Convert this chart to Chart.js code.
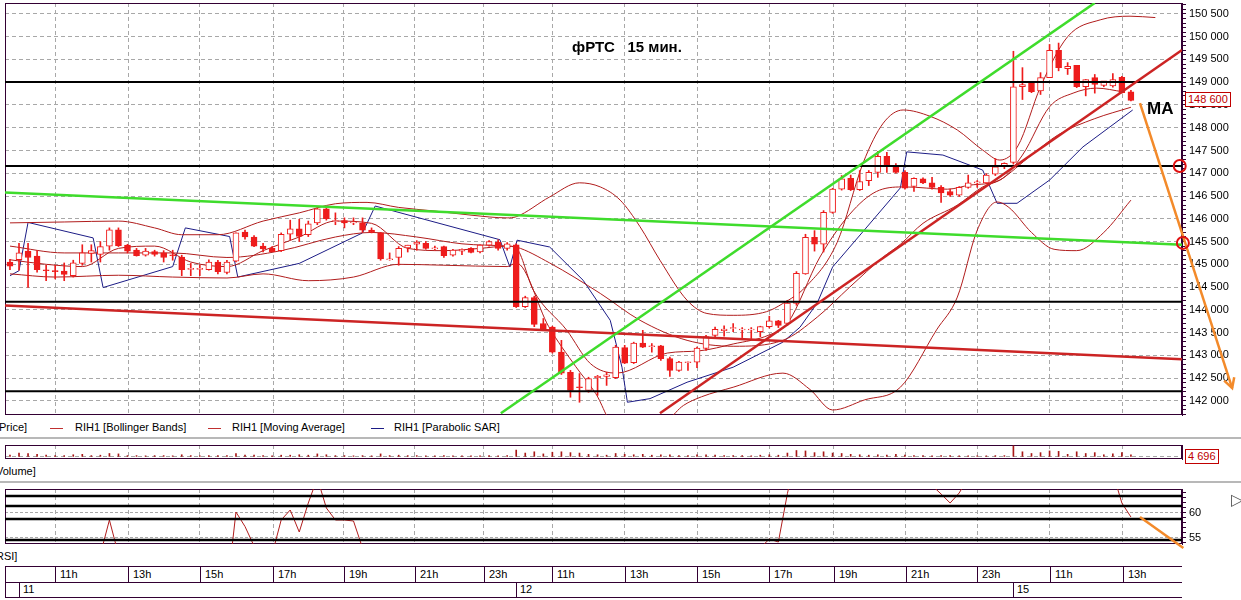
<!DOCTYPE html>
<html>
<head>
<meta charset="utf-8">
<title>RIH1 15 min</title>
<script src="https://cdn.jsdelivr.net/npm/chart.js@4.4.1/dist/chart.umd.min.js"></script>
<style>
  html, body { margin: 0; padding: 0; background: #fff; }
  body { position: relative; width: 1241px; height: 600px; overflow: hidden;
         font-family: "Liberation Sans", Arial, sans-serif; font-size: 11px; color: #000; }
  canvas { position: absolute; left: 0; }
  .lbl { position: absolute; white-space: pre; line-height: 13px; }
  .sep { position: absolute; left: 0; width: 1241px; height: 2px; background: #b8b8b8; }
  .tag { position: absolute; border: 1px solid #c00000; color: #c00000; background: #fff;
         padding: 0 2px; line-height: 13px; white-space: nowrap; }
  .ln { position: absolute; background: #330033; }
  .key { position: absolute; height: 1px; width: 13px; }
</style>
</head>
<body>
<canvas id="price" width="1241" height="420" style="top:0"></canvas>
<canvas id="volume" width="1241" height="24" style="top:440px"></canvas>
<canvas id="rsi" width="1241" height="66" style="top:484px"></canvas>
<script>
// x axis is the candle index (15 min bars), 9 px per bar
const X_MIN = -0.55, X_MAX = 129.65;

// hour grid lines and the time strip
const hourIdx = [5, 13.1, 21, 29.1, 36.9, 44.8, 52.4, 60, 68, 76, 84, 91.1, 99.1, 107, 115, 123.1];
const hourLabels = ['11h', '13h', '15h', '17h', '19h', '21h', '23h', '11h', '13h', '15h', '17h', '19h', '21h', '23h', '11h', '13h'];
const dayIdx = [1, 56, 111];
const dayLabels = ['11', '12', '15'];

// RIH1 candles
const opens = [
  145050,145100,145290,145180,144880,144860,144850,144750,145020,145240,
  145220,145400,145760,145420,145310,145200,145280,145250,145210,145160,
  144890,144890,144880,145050,144820,145070,145710,145600,145400,145350,
  145300,145660,145780,145650,145910,146220,145940,145960,145910,145910,
  145750,145690,145100,145150,145360,145440,145460,145340,145390,145200,
  145290,145350,145270,145420,145490,145350,
  145430,144070,144270,143700,143620,143070,142630,142310,142230,142510,
  142540,142510,143170,142840,143270,143190,143210,142930,142670,142840,
  142850,143150,143440,143540,143590,143560,143560,143520,143630,143760,
  143700,144140,144790,145590,145440,146140,146650,146890,146640,146840,
  147020,147370,147150,147020,146710,146880,146790,146690,146600,146520,
  146690,146790,146790,146980,147150,
  147240,148900,148990,148810,149100,149700,149300,149370,148900,149100,
  148930,148920,149110,148790
];
const highs = [
  145110,145460,145460,145300,144980,144980,145030,145090,145430,145430,
  145500,145800,145800,145440,145350,145350,145310,145300,145310,145200,
  145020,144980,145100,145090,145090,145690,145750,145630,145460,145390,
  145690,145970,145990,145950,146250,146250,146130,146020,146020,146020,
  145800,145700,145250,145390,145420,145520,145500,145400,145400,145330,
  145340,145370,145430,145520,145540,145480,
  145450,144300,144300,143810,143640,143330,142670,142600,142520,142560,
  142630,143220,143220,143290,143550,143260,143220,142960,142870,142860,
  143180,143440,143620,143650,143700,143610,143610,143640,143860,143770,
  144210,144840,145660,145740,146180,146670,146950,146960,147060,147060,
  147480,147460,147210,147060,146900,146900,146910,146730,146650,146710,
  146960,146840,146990,147320,147230,
  149680,149320,149020,149210,149830,149860,149430,149370,149060,149170,
  148990,149190,149130,148820
];
const lows = [
  144880,144870,144490,144830,144640,144680,144640,144720,144980,145050,
  145050,145310,145390,145250,145180,145180,145180,145050,145090,144750,
  144750,144750,144870,144790,144790,145050,145550,145390,145270,145280,
  145280,145540,145500,145610,145870,145970,145870,145800,145870,145700,
  145690,145090,145090,144980,145270,145310,145330,145310,145150,145180,
  145210,145250,145250,145400,145310,145310,
  144050,144050,143630,143550,143050,142580,142080,141970,142190,142120,
  142340,142490,142820,142820,143170,143070,142890,142540,142650,142670,
  142730,143110,143400,143420,143520,143390,143370,143410,143600,143610,
  143660,144100,144780,145290,145270,146120,146630,146620,146620,146730,
  146910,147020,147000,146650,146600,146770,146650,146360,146490,146490,
  146670,146690,146770,146950,147100,
  147200,148620,148770,148730,149100,149250,149170,148880,148700,148760,
  148900,148890,148760,148590
];
const closes = [
  144960,145250,145150,144880,144860,144840,144780,145030,145250,145300,
  145390,145760,145410,145290,145190,145290,145220,145150,145190,144880,
  144910,144910,145050,144840,145050,145690,145600,145400,145340,145280,
  145660,145780,145610,145890,146220,146000,145960,145910,145930,145750,
  145700,145120,145120,145350,145420,145490,145350,145360,145190,145310,
  145330,145260,145420,145500,145350,145450,
  144070,144270,143680,143580,143070,142610,142230,142290,142490,142540,
  142570,143180,142830,143270,143180,143210,142930,142670,142850,142860,
  143160,143410,143570,143580,143610,143580,143580,143630,143760,143660,
  144150,144800,145590,145440,146140,146650,146880,146640,146820,147020,
  147370,147170,147020,146670,146890,146790,146690,146570,146520,146690,
  146790,146810,146960,147140,147220,
  148900,148950,148790,149100,149700,149320,149350,148900,149060,148950,
  149030,149060,148770,148600
];

// indicator lines as [bar index, price]
const bbUpper = [[0,145910],[6,145930],[12,145950],[16,145800],[19,145650],[23,145650],[28,145950],[32,146130],
  [36,146330],[39.5,146360],[43,146250],[47,146170],[51,146080],[55,146020],[56,146045],[59.7,146480],[63,146790],
  [65.3,146700],[67.5,146410],[69.7,145825],[71.9,145090],[74.9,144210],[77.1,143920],[80,143880],[83.7,143960],
  [85.5,144140],[88,144500],[91.5,145480],[94.4,147240],[96.6,148100],[98.8,148390],[101.8,148250],[104.8,147950],
  [107.6,147510],[109.5,147290],[111.5,147600],[114,148900],[117,150000],[120.6,150370],[123.9,150450],[126.7,150420]];
const bbMiddle = [[0,145400],[6,145250],[12,145250],[18,145250],[24,145150],[30,145300],[36,145600],[40,145700],
  [45,145600],[50,145450],[55,145400],[56,145380],[59.7,145030],[65.3,144360],[69.7,143770],[74.9,143330],[80,143200],
  [85.5,143330],[89.3,143840],[92.9,144500],[96.6,145160],[98.5,145440],[101,145900],[104.8,146300],[107.6,146700],
  [109.5,146850],[113,147400],[116,147850],[120,148200],[124,148450]];
const bbLower = [[0,144790],[5,144720],[12,144760],[18,144720],[24,144700],[28,144790],[33,144640],[38,144720],
  [43,145000],[48,144980],[55,144950],[56,145030],[59.6,143630],[62.6,142750],[64.8,142160],[67,141400],[71,141300],
  [74.5,141900],[76.5,142090],[80,142300],[85.5,142610],[88.5,142250],[91,141800],[94.5,142020],[98.5,142300],
  [102.5,143560],[104.8,144280],[107,145750],[109.2,146370],[110.5,146250],[113,145700],[115.5,145330],[118,145300],
  [121,145700],[124,146410]];
const maLine = [[0,145100],[4,145000],[8,144950],[12,145350],[16,145400],[20,145050],[24,144950],[28,145300],
  [32,145600],[36,145950],[40,145900],[44,145350],[48,145300],[52,145350],[55,145400],[56,145355],[57.9,144430],
  [61.6,143550],[64.2,142820],[67.1,142610],[72.7,143050],[76.3,143100],[80,143250],[84,143450],[86,143700],
  [89.6,145160],[93.3,146190],[96.2,146630],[99,146700],[103.7,146650],[106.2,146740],[109.5,146850],[112,147400],
  [115,148460],[117.6,148760],[120.2,148870],[123.1,148790]];
const sarLine = [[0,144750],[1,144860],[2,145920],[9.2,145580],[10.3,144490],[18,144950],[19.4,145800],[24.3,145610],
  [25.2,144720],[32,145020],[39,145690],[40.4,146280],[54.2,145540],[55.3,144940],[56.1,145530],[59.7,145380],
  [63.4,144650],[66.4,143770],[67.7,142740],[68.3,141970],[70.8,142050],[74.9,142410],[80,142740],[85.5,143290],
  [87.4,143620],[89.3,144150],[91,144940],[94.8,145820],[98.5,146680],[99.2,147470],[103.2,147400],[107.6,147070],
  [109.2,146340],[111.4,146340],[115,146850],[118.7,147580],[124.2,148390]];

// hand drawn lines on the price panel
const levels = [149005, 147160, 144180, 142210];
const greenLines = [[[X_MIN,146575],[X_MAX,145430]], [[54.3,141730],[120,150742]]];
const redLines = [[[X_MIN,144095],[X_MAX,142915]], [[71.9,141730],[X_MAX,149709]]];
const orangeArrow = [[125,148540],[135.2,142280]];
const circles = [[129.4,147160],[129.75,145470],[129.75,144180],[129.75,142210]];

// volume and RSI panels
const volumes = [
  4000,9000,8000,6000,4000,3000,3000,5000,6000,3000,4000,8000,7000,3000,3000,2500,3000,3000,2500,5000,
  3000,2500,3000,3000,3000,8000,4000,4000,3000,2500,4000,4000,5000,4000,7000,5000,3000,3000,2500,3000,
  2500,7000,3000,4000,3000,3000,2500,2500,3000,2500,2500,2500,2500,3000,2500,3000,
  16000,9000,12000,7000,11000,12000,10000,9000,6000,5000,4000,8000,6000,5000,6000,4000,5000,5000,3000,3000,
  5000,5000,4000,3000,3000,3000,2500,4000,5000,4000,9000,15000,14000,10000,12000,9000,8000,6000,5000,4000,
  5000,4000,6000,4000,3000,3000,2500,3000,3000,2500,2500,2500,2500,3000,3000,
  26000,12000,8000,10000,14000,13000,6000,12000,8000,10000,5000,7000,10000,4696
];
const rsi = [
  48,50,47,45,44,45,44,47,50,51,
  51.7,58.6,51.7,
  48,46,47,46,44,45,38,40,41,45,42,
  44.2,60.2,57.3,53.4,50,
  51.7,58.6,60.6,56.2,62,67,61,58.6,58.6,58.4,
  53,50,40,41,46,48,50,47,47,44,46,47,45,48,50,47,49,
  30,32,28,27,24,20,18,18,22,24,25,35,32,38,40,40,36,32,35,35,40,45,48,49,50,49,49,53,
  54.8,54.2,63.9,72,
  78,76,82,85,86,82,83,84,86,82,80,72,74,72,
  65.5,63.8,62,64,67,
  68,70,72,80,82,79,77,79,82,78,78,70,72,70,71,
  68,62,59.2
];
const rsiLevels = [63.4, 61.4, 58.8, 54.6];
const rsiOrange = [[125,59.2],[129.8,53.0]];
const rsiTicks = [54,55,56,57,58,59,60,61,62,63,64];
const rsiLabeled = [55, 60];

const RED = '#ee1c1c', THIN = '#b01c1c', NAVY = '#1c1c86', FRAME = '#330033', GRID = '#a8a8a8';
const FONT = { family: '"Liberation Sans", Arial, sans-serif', size: 11 };

function pts(arr) { return arr.map(p => ({ x: p[0], y: p[1] })); }
function spaced(v) {
  const t = Math.floor(v / 1000), r = Math.round(v % 1000);
  return t + ' ' + String(r).padStart(3, '0');
}

// frame round the plot area
const framePlugin = {
  id: 'frame',
  beforeDatasetsDraw(chart) {
    const a = chart.chartArea, c = chart.ctx;
    c.save();
    c.strokeStyle = FRAME;
    c.lineWidth = 1;
    c.strokeRect(Math.round(a.left) + 0.5, Math.round(a.top) + 0.5,
      Math.round(a.right - a.left) - 1, Math.round(a.bottom - a.top) - 1);
    c.restore();
  }
};

// open arrow head at the end of datasets that ask for it
const arrowPlugin = {
  id: 'arrow',
  afterDatasetsDraw(chart) {
    chart.data.datasets.forEach((ds, k) => {
      if (!ds.arrowHead) return;
      const d = chart.getDatasetMeta(k).data;
      const a = d[d.length - 2], b = d[d.length - 1];
      const ang = Math.atan2(b.y - a.y, b.x - a.x);
      const c = chart.ctx;
      c.save();
      c.strokeStyle = ds.borderColor;
      c.lineWidth = ds.borderWidth;
      c.beginPath();
      c.moveTo(b.x - 11 * Math.cos(ang - 0.5), b.y - 11 * Math.sin(ang - 0.5));
      c.lineTo(b.x, b.y);
      c.lineTo(b.x - 11 * Math.cos(ang + 0.5), b.y - 11 * Math.sin(ang + 0.5));
      c.stroke();
      c.restore();
    });
  }
};

function timeAxis() {
  return {
    type: 'linear', min: X_MIN, max: X_MAX, offset: false,
    afterBuildTicks: s => { s.ticks = hourIdx.map(v => ({ value: v })); },
    afterFit: s => { s.height = 0; },
    ticks: { display: false },
    grid: { color: GRID, drawTicks: false, offset: false },
    border: { display: false, dash: [4, 3] }
  };
}

// right value axis with a fixed width and no extra room for the end labels
function fitRight(s) {
  s.width = 59;
  s.paddingTop = 0;
  s.paddingBottom = 0;
}

function lineSet(arr, color, width, order, extra) {
  return Object.assign({
    type: 'line', data: pts(arr), borderColor: color, borderWidth: width,
    pointRadius: 0, fill: false, order: order
  }, extra || {});
}

const base = {
  responsive: false, animation: false, events: [],
  plugins: { legend: { display: false }, tooltip: { enabled: false } }
};

// price panel
const idx = opens.map((_, i) => i);
const priceSets = [
  { type: 'line', data: pts(circles), showLine: false, pointRadius: 6, pointBorderWidth: 2,
    pointBorderColor: '#e01010', pointBackgroundColor: 'rgba(0,0,0,0)', clip: false, order: 0 },
  lineSet(orangeArrow, '#f38a2a', 2.5, 1, { clip: false, arrowHead: true })
];
greenLines.forEach(l => priceSets.push(lineSet(l, '#3fdc2c', 2.5, 2)));
redLines.forEach(l => priceSets.push(lineSet(l, '#cc2424', 2.5, 2)));
levels.forEach(v => priceSets.push(lineSet([[X_MIN, v], [X_MAX, v]], '#000', 2, 3)));
priceSets.push({
  type: 'bar', data: idx.map(i => ({ x: i, y: [opens[i], closes[i]] })),
  backgroundColor: idx.map(i => closes[i] > opens[i] ? '#fff' : RED),
  borderColor: RED, borderWidth: 1, borderSkipped: false, barThickness: 6, grouped: false, order: 4
});
priceSets.push({
  type: 'bar', data: idx.map(i => ({ x: i, y: [lows[i], highs[i]] })),
  backgroundColor: RED, barThickness: 1, grouped: false, order: 5
});
const smooth = { cubicInterpolationMode: 'monotone' };
priceSets.push(lineSet(bbUpper, THIN, 1, 6, smooth));
priceSets.push(lineSet(bbMiddle, THIN, 1, 6, smooth));
priceSets.push(lineSet(bbLower, THIN, 1, 6, smooth));
priceSets.push(lineSet(maLine, THIN, 1, 6, smooth));
priceSets.push(lineSet(sarLine, NAVY, 1, 6));

const priceTicks = [];
for (let v = 141700; v <= 150700; v += 100) priceTicks.push(v);

const priceChart = new Chart(document.getElementById('price'), {
  type: 'bar',
  data: { datasets: priceSets },
  options: Object.assign({}, base, {
    layout: { autoPadding: false, padding: { left: 5, top: 3, right: 0, bottom: 5 } },
    scales: {
      x: timeAxis(),
      y: {
        type: 'linear', position: 'right', min: 141690, max: 150740, beginAtZero: false,
        afterBuildTicks: s => { s.ticks = priceTicks.map(v => ({ value: v })); },
        afterFit: fitRight,
        ticks: { autoSkip: false, padding: 3, color: '#000', font: FONT,
                 callback: v => v % 500 === 0 ? spaced(v) : '' },
        grid: { color: c => (c.tick && c.tick.value % 500 === 0) ? GRID : 'rgba(0,0,0,0)',
                tickColor: FRAME, tickLength: 4 },
        border: { color: FRAME, dash: [4, 3] }
      }
    }
  }),
  plugins: [framePlugin, arrowPlugin]
});

// volume panel
new Chart(document.getElementById('volume'), {
  type: 'bar',
  data: { datasets: [{ data: idx.map(i => ({ x: i, y: volumes[i] })), backgroundColor: '#a81818',
                       barThickness: 1, grouped: false }] },
  options: Object.assign({}, base, {
    layout: { autoPadding: false, padding: { left: 5, top: 5, right: 0, bottom: 5 } },
    scales: {
      x: timeAxis(),
      y: {
        type: 'linear', position: 'right', min: -5000, max: 28000,
        afterBuildTicks: s => { s.ticks = [{ value: 0 }]; },
        afterFit: fitRight,
        ticks: { display: false },
        grid: { color: GRID, drawTicks: false },
        border: { color: FRAME, dash: [4, 3] }
      }
    }
  }),
  plugins: [framePlugin]
});

// RSI panel
const rsiSets = [lineSet(rsiOrange, '#f38a2a', 2.5, 0, { clip: false })];
rsiLevels.forEach(v => rsiSets.push(lineSet([[X_MIN, v], [X_MAX, v]], '#000', 2.5, 1)));
rsiSets.push({ type: 'line', data: idx.map(i => ({ x: i, y: rsi[i] })), borderColor: THIN, borderWidth: 1,
               pointRadius: 0, order: 2 });
new Chart(document.getElementById('rsi'), {
  type: 'line',
  data: { datasets: rsiSets },
  options: Object.assign({}, base, {
    layout: { autoPadding: false, padding: { left: 5, top: 5, right: 0, bottom: 6 } },
    scales: {
      x: timeAxis(),
      y: {
        type: 'linear', position: 'right', min: 53.8, max: 64.8,
        afterBuildTicks: s => { s.ticks = rsiTicks.map(v => ({ value: v })); },
        afterFit: fitRight,
        ticks: { autoSkip: false, padding: 3, color: '#000', font: FONT,
                 callback: v => rsiLabeled.includes(v) ? String(v) : '' },
        grid: { color: c => (c.tick && rsiLabeled.includes(c.tick.value)) ? GRID : 'rgba(0,0,0,0)',
                tickColor: FRAME, tickLength: 4 },
        border: { color: FRAME, dash: [3, 2] }
      }
    }
  }),
  plugins: [framePlugin]
});

// texts, legend and the time strip
function add(cls, css, text) {
  const d = document.createElement('div');
  d.className = cls;
  Object.assign(d.style, css);
  if (text !== undefined) d.textContent = text;
  document.body.appendChild(d);
  return d;
}
const xs = priceChart.scales.x, ys = priceChart.scales.y;
const px = v => xs.getPixelForValue(v);
const left = Math.round(xs.left), right = Math.round(xs.right);

add('lbl', { left: '572px', top: '38px', fontSize: '15px', fontWeight: 'bold', lineHeight: '17px' }, 'фРТС   15 мин.');
add('lbl', { left: '1147px', top: '99px', fontSize: '17px', fontWeight: 'bold', lineHeight: '19px' }, 'MA');
add('tag', { left: '1185px', top: Math.round(ys.getPixelForValue(closes[closes.length - 1]) - 8) + 'px' },
    spaced(closes[closes.length - 1]));
add('tag', { left: '1185px', top: '449px' }, '4 696');

add('lbl', { left: '-1px', top: '421px' }, 'Price]');
add('key', { left: '50px', top: '428px', background: '#c03030' });
add('lbl', { left: '75px', top: '421px' }, 'RIH1 [Bollinger Bands]');
add('key', { left: '208px', top: '428px', background: '#c03030' });
add('lbl', { left: '232px', top: '421px' }, 'RIH1 [Moving Average]');
add('key', { left: '371px', top: '428px', background: NAVY });
add('lbl', { left: '394px', top: '421px' }, 'RIH1 [Parabolic SAR]');
add('sep', { top: '437px' });
add('lbl', { left: '-4px', top: '465px' }, 'Volume]');
add('sep', { top: '481px' });
add('lbl', { left: '-4px', top: '550px' }, 'RSI]');
add('lbl', { left: '1231px', top: '491px', fontSize: '16px', color: '#555', lineHeight: '18px' }, '▷');

// two rows of the time strip
[566, 582, 597].forEach(y => add('ln', { left: left + 'px', top: y + 'px', width: (right - left) + 'px', height: '1px' }));
add('ln', { left: left + 'px', top: '566px', width: '1px', height: '32px' });
hourIdx.forEach((v, k) => {
  const x = Math.round(px(v));
  add('ln', { left: x + 'px', top: '566px', width: '1px', height: '16px' });
  add('lbl', { left: (x + 5) + 'px', top: '568px' }, hourLabels[k]);
});
dayIdx.forEach((v, k) => {
  const x = Math.round(px(v));
  add('ln', { left: x + 'px', top: '582px', width: '1px', height: '15px' });
  add('lbl', { left: (x + 4) + 'px', top: '583px' }, dayLabels[k]);
});
</script>
</body>
</html>
